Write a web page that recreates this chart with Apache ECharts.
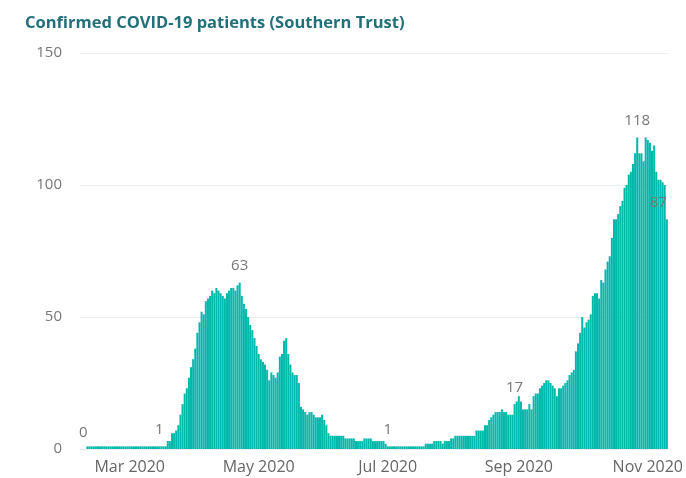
<!DOCTYPE html>
<html>
<head>
<meta charset="utf-8">
<script src="https://cdn.jsdelivr.net/npm/echarts@6/dist/echarts.min.js"></script>
<style>
html,body{margin:0;padding:0;background:#fff;}
#chart{width:686px;height:478px;}
</style>
</head>
<body>
<div id="chart"></div>
<script>
// Daily categories: first day and number of days
const startDate = '2020-02-07';
const dayCount = 278;

// Confirmed COVID-19 patients per day
const patients = [
  0,0,0,
  1,1,1,1,1,1,1,1,1,1,1,1,1,1,1,1,1,1,1,1,1,1,1,1,1,1,1,1,1,1,1,1,1,1,1,1,1,1,
  3,3,6,6,7,9,13,17,21,23,27,31,34,38,44,48,52,51,56,57,58,60,59,61,60,59,58,57,59,60,61,61,60,62,63,
  58,55,53,50,47,45,42,39,36,34,33,32,30,26,29,28,27,29,35,36,41,42,36,32,29,28,28,25,
  16,15,14,13,14,14,13,12,12,12,13,11,9,6,
  5,5,5,5,5,5,5,
  4,4,4,4,4,
  3,3,3,3,
  4,4,4,4,
  3,3,3,3,3,3,
  2,
  1,1,1,1,1,1,1,1,1,1,1,1,1,1,1,1,1,1,
  2,2,2,2,
  3,3,3,3,
  2,
  3,3,3,
  4,4,
  5,5,5,5,5,5,5,5,5,5,
  7,7,7,7,
  9,9,
  11,12,13,14,14,14,15,14,14,13,13,13,17,18,20,18,15,15,15,17,15,20,21,21,23,24,25,26,26,25,24,23,20,
  23,23,24,25,26,28,29,30,37,40,44,50,46,48,49,51,58,59,59,57,64,63,68,71,73,80,87,87,89,92,94,99,100,
  104,105,108,112,118,112,112,109,118,117,116,113,115,105,102,102,101,100,87
];

// Indices of the bars that carry a data label
const labelledDays = [1, 37, 75, 145, 205, 263, 277];

// Month tick labels shown on the x axis
const monthTicks = ['2020-03-01','2020-05-01','2020-07-01','2020-09-01','2020-11-01'];
const monthNames = ['Jan','Feb','Mar','Apr','May','Jun','Jul','Aug','Sep','Oct','Nov','Dec'];

// y axis ticks
const yTicks = [0, 50, 100, 150];

function pad(n){return n<10?'0'+n:''+n;}
const dates = [];
(function(){
  const p = startDate.split('-').map(Number);
  for (let i = 0; i < dayCount; i++) {
    const d = new Date(Date.UTC(p[0], p[1]-1, p[2] + i));
    dates.push(d.getUTCFullYear()+'-'+pad(d.getUTCMonth()+1)+'-'+pad(d.getUTCDate()));
  }
})();

const FONT = '"Open Sans", "Noto Sans", sans-serif';

const seriesData = patients.map((v, i) => {
  if (labelledDays.indexOf(i) >= 0) {
    const item = {value: v, label: {show: true}};
    if (i === dayCount - 1) item.label.align = 'right';
    return item;
  }
  return v;
});

const chart = echarts.init(document.getElementById('chart'), null, {renderer: 'canvas'});
chart.setOption({
  animation: false,
  backgroundColor: '#ffffff',
  title: {
    text: 'Confirmed COVID-19 patients (Southern Trust)',
    left: 20, top: 10,
    textStyle: {fontFamily: FONT, fontSize: 16.5, fontWeight: 'bold', color: '#22707a'}
  },
  grid: {left: 80, right: 15, top: 53, bottom: 29, containLabel: false},
  xAxis: {
    type: 'category',
    data: dates,
    axisLine: {show: false},
    axisTick: {show: false},
    axisLabel: {
      interval: function (idx, val) { return monthTicks.indexOf(val) >= 0; },
      formatter: function (val) {
        const p = val.split('-');
        return monthNames[Number(p[1]) - 1] + ' ' + p[0];
      },
      fontFamily: FONT, fontSize: 16, color: '#666', margin: 10
    }
  },
  yAxis: {
    type: 'value',
    min: yTicks[0], max: yTicks[yTicks.length - 1], interval: 50,
    axisLine: {show: false},
    axisTick: {show: false},
    axisLabel: {fontFamily: FONT, fontSize: 15, color: '#777', margin: 18},
    splitLine: {lineStyle: {color: '#ececec', width: 1}}
  },
  series: [{
    type: 'bar',
    data: seriesData,
    barCategoryGap: '4%',
    itemStyle: {color: '#01B8AA'},
    label: {
      show: false,
      position: 'top',
      distance: 9,
      fontFamily: FONT, fontSize: 15, color: '#777'
    }
  }]
});
</script>
</body>
</html>
